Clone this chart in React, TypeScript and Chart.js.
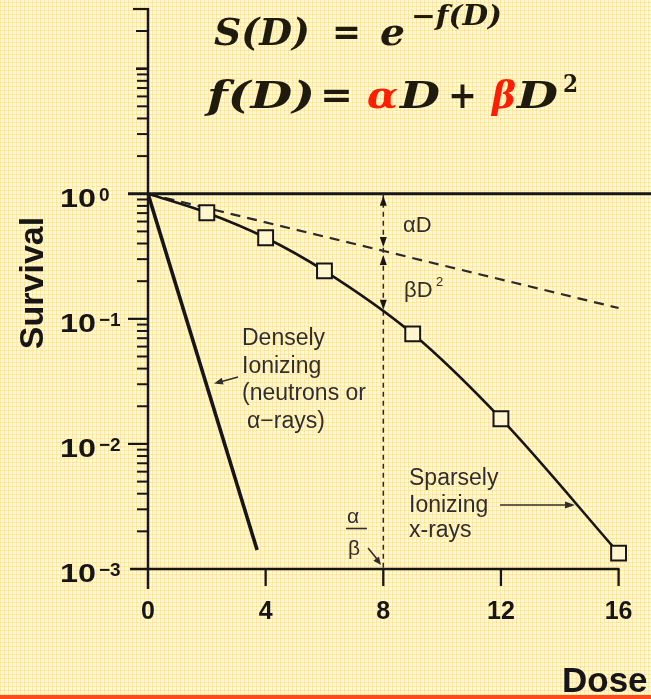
import React, { useEffect, useRef } from 'react';
import { Chart, registerables } from 'chart.js';

Chart.register(...registerables);

// Survival curves (dose in Gy, surviving fraction)
const DOSE_SPARSE = [0, 2, 4, 6, 9, 12, 16];
const SURV_SPARSE = [1, 0.705, 0.445, 0.242, 0.0759, 0.0159, 0.00134];
const DOSE_DENSE = [0, 3.71];
const SURV_DENSE = [1, 0.00142];
const DOSE_ALPHA = [0, 16];
const SURV_ALPHA = [1, 0.122];
const ALPHA_BETA_DOSE = 8;

const X_TICKS = [0, 4, 8, 12, 16];
const Y_DECADES = [1, 0.1, 0.01, 0.001];
const Y_EXPONENTS = ['0', '−1', '−2', '−3'];

const DENSE_LABEL = ['Densely', 'Ionizing', '(neutrons or', 'α−rays)'];
const SPARSE_LABEL = ['Sparsely', 'Ionizing', 'x-rays'];

const W = 651;
const H = 699;
const INK = '#161616';
const NOTE = '#2e2e2e';
const SQUARE_FILL = '#FFF5CE';
const RED = '#FF1E00';
const MATH = '#1f1b0c';

function logInterp(xs: number[], ys: number[], x: number): number {
  for (let i = 0; i < xs.length - 1; i++) {
    if (x >= xs[i] && x <= xs[i + 1]) {
      const t = (x - xs[i]) / (xs[i + 1] - xs[i]);
      const a = Math.log10(ys[i]);
      const b = Math.log10(ys[i + 1]);
      return Math.pow(10, a + t * (b - a));
    }
  }
  return ys[ys.length - 1];
}

function seg(ctx: CanvasRenderingContext2D, x1: number, y1: number, x2: number, y2: number, w: number) {
  ctx.lineWidth = w;
  ctx.beginPath();
  ctx.moveTo(x1, y1);
  ctx.lineTo(x2, y2);
  ctx.stroke();
}

// Draw text, optionally stretched horizontally to span [x, x + width]
function text(
  ctx: CanvasRenderingContext2D,
  s: string,
  x: number,
  y: number,
  font: string,
  color: string,
  align: CanvasTextAlign = 'left',
  width?: number
) {
  ctx.save();
  ctx.font = font;
  ctx.fillStyle = color;
  ctx.textBaseline = 'alphabetic';
  if (width) {
    const m = ctx.measureText(s).width;
    const sx = width / m;
    ctx.translate(x, y);
    ctx.scale(sx, 1);
    ctx.textAlign = 'left';
    ctx.fillText(s, 0, 0);
  } else {
    ctx.textAlign = align;
    ctx.fillText(s, x, y);
  }
  ctx.restore();
}

function arrowHead(ctx: CanvasRenderingContext2D, tx: number, ty: number, fx: number, fy: number, len = 9, half = 3.5) {
  const ang = Math.atan2(ty - fy, tx - fx);
  ctx.beginPath();
  ctx.moveTo(tx, ty);
  ctx.lineTo(tx - len * Math.cos(ang) + half * Math.sin(ang), ty - len * Math.sin(ang) - half * Math.cos(ang));
  ctx.lineTo(tx - len * Math.cos(ang) - half * Math.sin(ang), ty - len * Math.sin(ang) + half * Math.cos(ang));
  ctx.closePath();
  ctx.fill();
}

const axesPlugin = {
  id: 'survivalAxes',
  beforeDatasetsDraw(chart: any) {
    const { ctx, scales } = chart;
    const xs = scales.x;
    const ys = scales.y;
    const x0 = xs.getPixelForValue(0);
    const yTop = ys.getPixelForValue(30);
    const yBot = ys.getPixelForValue(0.001);
    const y1 = ys.getPixelForValue(1);
    ctx.save();
    ctx.strokeStyle = INK;
    ctx.lineCap = 'butt';

    // vertical axis with its upper extension
    seg(ctx, x0, yTop - 1, x0, yBot + 20, 2.5);
    seg(ctx, x0 - 15, yTop, x0 + 1, yTop, 2.2);

    // minor log ticks
    for (let n = -3; n <= 0; n++) {
      for (let k = 2; k <= 9; k++) {
        const py = ys.getPixelForValue(k * Math.pow(10, n));
        seg(ctx, x0 - 11, py, x0, py, 2);
      }
    }
    seg(ctx, x0 - 12, ys.getPixelForValue(10), x0, ys.getPixelForValue(10), 2.6);
    seg(ctx, x0 - 12, ys.getPixelForValue(20), x0, ys.getPixelForValue(20), 2);

    // decade ticks
    for (const v of [0.1, 0.01]) {
      const py = ys.getPixelForValue(v);
      seg(ctx, x0 - 20, py, x0, py, 2.2);
    }

    // full-width line at 10^0
    seg(ctx, x0 - 20, y1, W, y1, 3);

    // dose axis
    const x16 = xs.getPixelForValue(16);
    seg(ctx, x0 - 18, yBot, x16 + 1, yBot, 2.5);
    for (const t of X_TICKS) {
      if (t === 0) continue;
      const px = xs.getPixelForValue(t);
      seg(ctx, px, yBot, px, yBot + 17, 2.3);
    }
    ctx.restore();
  },
  afterDraw(chart: any) {
    const { ctx, scales } = chart;
    const xs = scales.x;
    const ys = scales.y;
    const yBot = ys.getPixelForValue(0.001);
    ctx.save();

    // y tick labels
    Y_DECADES.forEach((v, i) => {
      const py = ys.getPixelForValue(v);
      text(ctx, '10', 60, py + 13, 'bold 26px "Liberation Sans"', INK, 'left', 36);
      text(ctx, Y_EXPONENTS[i], 99, py + 7, 'bold 19px "Liberation Sans"', INK, 'left');
    });

    // x tick labels
    X_TICKS.forEach((t) => {
      const px = xs.getPixelForValue(t);
      text(ctx, String(t), px, yBot + 50, 'bold 25px "Liberation Sans"', INK, 'center');
    });

    // axis titles
    ctx.save();
    ctx.translate(31, 283);
    ctx.rotate(-Math.PI / 2);
    text(ctx, 'Survival', 0, 12, 'bold 34px "Liberation Sans"', INK, 'center');
    ctx.restore();
    text(ctx, 'Dose', 562, 692, 'bold 35px "Liberation Sans"', INK, 'left');

    // model equations
    const big = 'italic bold 38px "DejaVu Serif"';
    const up = 'bold 38px "DejaVu Serif"';
    text(ctx, 'S(D)', 214, 45, big, MATH, 'left', 96);
    text(ctx, '=', 332, 45, up, MATH, 'left', 29);
    text(ctx, 'e', 380, 45, big, MATH, 'left', 25);
    text(ctx, '−f(D)', 411, 25, 'italic bold 27px "DejaVu Serif"', MATH, 'left', 91);

    text(ctx, 'f(D)', 207, 108, big, MATH, 'left', 108);
    text(ctx, '=', 320, 108, up, MATH, 'left', 33);
    text(ctx, 'α', 367, 108, big, RED, 'left', 31);
    text(ctx, 'D', 400, 108, big, MATH, 'left', 40);
    text(ctx, '+', 448, 108, up, MATH, 'left', 29);
    text(ctx, 'β', 492, 108, big, RED, 'left', 24);
    text(ctx, 'D', 517, 108, big, MATH, 'left', 41);
    text(ctx, '2', 563, 92, 'bold 24px "DejaVu Serif"', MATH, 'left', 15);

    // curve labels
    const note = '23px "Liberation Sans"';
    const denseBase = [345, 373, 400, 428];
    DENSE_LABEL.forEach((s, i) => text(ctx, s, i === 3 ? 247 : 242, denseBase[i], note, NOTE));
    const sparseBase = [485, 512, 537];
    SPARSE_LABEL.forEach((s, i) => text(ctx, s, 409, sparseBase[i], note, NOTE));

    ctx.strokeStyle = NOTE;
    ctx.fillStyle = NOTE;
    seg(ctx, 238, 377, 220, 382, 1.6);
    arrowHead(ctx, 214, 383.5, 238, 377, 9, 3.5);
    seg(ctx, 500, 505, 566, 505, 1.6);
    arrowHead(ctx, 575, 505, 500, 505, 10, 3.5);

    // alpha D and beta D^2 brackets at the alpha/beta dose
    const px8 = xs.getPixelForValue(ALPHA_BETA_DOSE);
    const yOne = ys.getPixelForValue(1);
    const yLin = ys.getPixelForValue(logInterp(DOSE_ALPHA, SURV_ALPHA, ALPHA_BETA_DOSE));
    const yCur = ys.getPixelForValue(logInterp(DOSE_SPARSE, SURV_SPARSE, ALPHA_BETA_DOSE));
    ctx.fillStyle = INK;
    arrowHead(ctx, px8, yOne + 2, px8, yOne + 20, 10, 3.5);
    arrowHead(ctx, px8, yLin - 4, px8, yLin - 24, 10, 3.5);
    arrowHead(ctx, px8, yLin + 4, px8, yLin + 24, 10, 3.5);
    arrowHead(ctx, px8, yCur - 3, px8, yCur - 23, 10, 3.5);
    text(ctx, 'αD', 403, 232, '22px "Liberation Sans"', NOTE);
    text(ctx, 'βD', 404, 297, '22px "Liberation Sans"', NOTE);
    text(ctx, '2', 436, 286, '13px "Liberation Sans"', NOTE);

    // alpha / beta fraction
    text(ctx, 'α', 347, 523, '21px "Liberation Sans"', NOTE);
    ctx.strokeStyle = NOTE;
    seg(ctx, 346, 528.5, 367, 528.5, 1.6);
    text(ctx, 'β', 348, 555, '21px "Liberation Sans"', NOTE);
    seg(ctx, 368, 548, 377, 559, 1.6);
    ctx.fillStyle = NOTE;
    arrowHead(ctx, 381, 565, 368, 548, 8, 3.5);

    // bottom rule
    ctx.fillStyle = '#FF4A1E';
    ctx.fillRect(0, 695, W, 4);
    ctx.restore();
  },
};

export default function App() {
  const ref = useRef<HTMLCanvasElement | null>(null);

  useEffect(() => {
    const canvas = ref.current;
    if (!canvas) return;
    const chart = new Chart(canvas, {
      type: 'line',
      data: {
        datasets: [
          {
            label: 'Sparsely ionizing',
            data: DOSE_SPARSE.map((d, i) => ({ x: d, y: SURV_SPARSE[i] })),
            borderColor: INK,
            borderWidth: 2.6,
            cubicInterpolationMode: 'monotone',
            pointStyle: 'rect',
            pointRadius: DOSE_SPARSE.map((d) => (d === 0 ? 0 : 10.5)),
            pointBackgroundColor: SQUARE_FILL,
            pointBorderColor: INK,
            pointBorderWidth: 2,
            fill: false,
          },
          {
            label: 'Densely ionizing',
            data: DOSE_DENSE.map((d, i) => ({ x: d, y: SURV_DENSE[i] })),
            borderColor: INK,
            borderWidth: 3.6,
            pointRadius: 0,
            fill: false,
          },
          {
            label: 'αD',
            data: DOSE_ALPHA.map((d, i) => ({ x: d, y: SURV_ALPHA[i] })),
            borderColor: '#2a2a2a',
            borderWidth: 2.2,
            borderDash: [10, 7],
            pointRadius: 0,
            fill: false,
          },
          {
            label: 'α/β',
            data: [
              { x: ALPHA_BETA_DOSE, y: 1 },
              { x: ALPHA_BETA_DOSE, y: 0.001 },
            ],
            borderColor: '#2a2a2a',
            borderWidth: 1.5,
            borderDash: [5, 4],
            pointRadius: 0,
            fill: false,
          },
        ],
      },
      options: {
        responsive: false,
        animation: false,
        devicePixelRatio: 1,
        events: [],
        layout: { autoPadding: false, padding: { left: 148, right: 3, top: 9, bottom: 130 } },
        scales: {
          x: { type: 'linear', min: 0, max: 17, display: false },
          y: { type: 'logarithmic', min: 0.001, max: 30, display: false },
        },
        plugins: { legend: { display: false }, tooltip: { enabled: false } },
      } as any,
      plugins: [axesPlugin],
    });
    return () => chart.destroy();
  }, []);

  return (
    <div
      style={{
        position: 'absolute',
        left: 0,
        top: 0,
        width: W,
        height: H,
        backgroundColor: '#FFF9DC',
        backgroundImage:
          'repeating-linear-gradient(0deg, rgba(255,205,70,0.35) 0px, rgba(255,205,70,0.35) 1px, transparent 1px, transparent 4px), repeating-linear-gradient(90deg, rgba(255,205,70,0.35) 0px, rgba(255,205,70,0.35) 1px, transparent 1px, transparent 4px)',
      }}
    >
      <canvas ref={ref} width={W} height={H} style={{ display: 'block' }} />
    </div>
  );
}
